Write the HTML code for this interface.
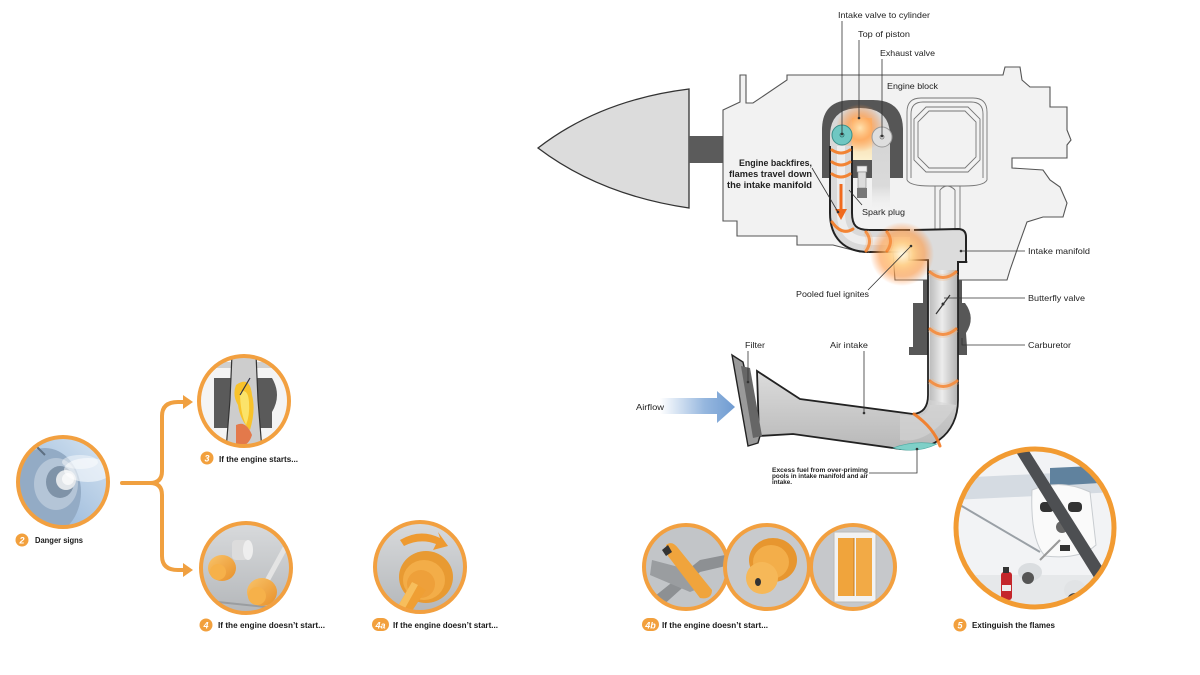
<!DOCTYPE html>
<html><head><meta charset="utf-8"><style>
html,body{margin:0;padding:0;background:#fff;}
svg{display:block;}
text{font-family:"Liberation Sans",sans-serif;}
</style></head><body>
<svg width="1200" height="675" viewBox="0 0 1200 675" xmlns="http://www.w3.org/2000/svg">
<defs>
  <linearGradient id="pipeV" x1="0" x2="1" y1="0" y2="0">
    <stop offset="0" stop-color="#bdbdbd"/><stop offset="0.45" stop-color="#ececec"/><stop offset="1" stop-color="#b5b5b5"/>
  </linearGradient>
  <linearGradient id="pipeH" x1="0" x2="0" y1="0" y2="1">
    <stop offset="0" stop-color="#c4c4c4"/><stop offset="0.4" stop-color="#eeeeee"/><stop offset="1" stop-color="#b8b8b8"/>
  </linearGradient>
  <linearGradient id="air" x1="0" x2="1">
    <stop offset="0" stop-color="#7aa4d6" stop-opacity="0"/><stop offset="0.6" stop-color="#7aa4d6" stop-opacity="0.8"/><stop offset="1" stop-color="#6f9bd1"/>
  </linearGradient>
  <radialGradient id="glow">
    <stop offset="0" stop-color="#fffbe6"/><stop offset="0.35" stop-color="#ffd08a" stop-opacity="0.95"/><stop offset="0.7" stop-color="#ff9a45" stop-opacity="0.6"/><stop offset="1" stop-color="#ff8a3a" stop-opacity="0"/>
  </radialGradient>
  <radialGradient id="glow2">
    <stop offset="0" stop-color="#ffe3b0"/><stop offset="0.5" stop-color="#ffa355" stop-opacity="0.8"/><stop offset="1" stop-color="#ff9040" stop-opacity="0"/>
  </radialGradient>
  <linearGradient id="chamber" x1="0" x2="0" y1="0" y2="1">
    <stop offset="0" stop-color="#f7c98a"/><stop offset="1" stop-color="#fbf0cf"/>
  </linearGradient>
  <linearGradient id="exh" x1="0" x2="0" y1="0" y2="1">
    <stop offset="0" stop-color="#d4d4d4"/><stop offset="0.7" stop-color="#dadada"/><stop offset="1" stop-color="#eeeeee" stop-opacity="0"/>
  </linearGradient>
  <linearGradient id="sky" x1="1" y1="0" x2="0" y2="1">
    <stop offset="0" stop-color="#dbe8f4"/><stop offset="1" stop-color="#86aad2"/>
  </linearGradient>
  <linearGradient id="grayBg" x1="0" y1="0" x2="0" y2="1">
    <stop offset="0" stop-color="#d9dbdd"/><stop offset="1" stop-color="#b3b6b9"/>
  </linearGradient>
  <linearGradient id="orng" x1="0" y1="0" x2="1" y2="1">
    <stop offset="0" stop-color="#f9c46a"/><stop offset="1" stop-color="#e8902a"/>
  </linearGradient>
  <clipPath id="c2"><circle cx="63" cy="482" r="45"/></clipPath>
  <clipPath id="c3"><circle cx="244" cy="401" r="45"/></clipPath>
  <clipPath id="c4"><circle cx="246" cy="568" r="45"/></clipPath>
  <clipPath id="c4a"><circle cx="420" cy="567" r="45"/></clipPath>
  <clipPath id="c4b1"><circle cx="686" cy="567" r="42"/></clipPath>
  <clipPath id="c4b2"><circle cx="767" cy="567" r="42"/></clipPath>
  <clipPath id="c4b3"><circle cx="853" cy="567" r="42"/></clipPath>
  <clipPath id="c5"><circle cx="1035" cy="528" r="79"/></clipPath>
</defs>

<!-- ================= ENGINE DIAGRAM ================= -->
<!-- spinner cone -->
<path d="M538,148 Q600,100 689,89 L689,208 Q600,195 538,148 Z" fill="#dcdcdc" stroke="#333" stroke-width="1.3"/>
<rect x="689" y="136" width="35" height="27" fill="#5b5b5b"/>

<!-- engine block -->
<path d="M723,110 L740,102 L740,75 L746,75 L746,103 L753,103 L787,80 L787,75 L1003,75 L1005,67 L1020,67 L1022,80 L1030,87 L1050,87 L1050,107 L1067,107 L1067,130 L1071,140 L1067,145 L1067,158 L1012,158 L1012,168 L1043,170 L1050,180 L1060,187 L1067,203 L1063,217 L1043,217 L1027,222 L1018,247 L1010,270 L1007,280 L895,280 L893,252 L860,252 L833,245 L797,245 L797,236 L737,236 L737,221 L723,221 Z" fill="#f2f2f2" stroke="#555" stroke-width="1.1"/>

<!-- block inner details -->
<g fill="none" stroke="#777" stroke-width="0.9">
  <path d="M907,180 L907,112 Q907,98 921,98 L973,98 Q987,98 987,112 L987,180"/>
  <path d="M911,178 L911,114 Q911,102 923,102 L971,102 Q983,102 983,114 L983,178"/>
  <path d="M926,107 L968,107 L980,119 L980,160 L968,172 L926,172 L914,160 L914,119 Z"/>
  <path d="M929,111 L965,111 L976,122 L976,157 L965,168 L929,168 L918,157 L918,122 Z"/>
  <path d="M907,180 Q910,186 930,186 L964,186 Q984,186 987,180"/>
  <path d="M935,186 L935,238 M940,190 L940,238 M955,190 L955,238 M960,186 L960,238"/>
  <path d="M940,190 Q947,182 955,190"/>
  <path d="M935,238 Q950,262 968,262"/>
</g>

<!-- cylinder head -->
<path d="M822,178 L822,130 Q822,100 852,100 L873,100 Q903,100 903,130 L903,178 Z" fill="#565656"/>
<path d="M830,180 L830,136 Q830,108 860,108 Q890,108 890,136 L890,160 L830,160 Z" fill="#d8d8d8"/>
<rect x="852" y="118" width="20" height="42" fill="url(#chamber)"/>
<rect x="872" y="130" width="18" height="80" fill="url(#exh)"/>
<rect x="852" y="160" width="20" height="18" fill="#565656"/>
<circle cx="860" cy="128" r="24" fill="url(#glow2)"/>
<!-- spark plug -->
<rect x="857" y="166" width="10" height="6" fill="#eee" stroke="#888" stroke-width="0.6"/>
<rect x="858" y="172" width="8" height="16" fill="#ddd" stroke="#888" stroke-width="0.6"/>
<rect x="857" y="188" width="10" height="10" fill="#777"/>
<!-- valves -->
<circle cx="842" cy="135" r="10" fill="#6fc7c2" stroke="#3a8f8a" stroke-width="1"/>
<circle cx="842" cy="135" r="2" fill="none" stroke="#2a6f6a" stroke-width="0.8"/>
<circle cx="882" cy="137" r="10" fill="#dedede" stroke="#999" stroke-width="1"/>
<circle cx="882" cy="137" r="2" fill="none" stroke="#777" stroke-width="0.8"/>

<!-- carburetor -->
<path d="M923,280 L962,280 L962,303 L965,303 Q976,318 966,333 L967,347 L967,355 L909,355 L909,347 L913,347 L913,303 L923,303 Z" fill="#575757"/>

<!-- intake tube -->
<path d="M841,146 L841,213 Q841,241 869,241 L917,241" fill="none" stroke="#222" stroke-width="24"/>
<path d="M841,146 L841,213 Q841,241 869,241 L920,241" fill="none" stroke="#d9d9d9" stroke-width="20"/>
<path d="M841,146 L841,213 Q841,241 869,241 L920,241" fill="none" stroke="#ededed" stroke-width="8"/>

<!-- vertical pipe + air intake -->
<path d="M928,255 L928,395 Q928,413 913,414 L800,399 L757,371 L759,436 L793,434 L893,448 C930,455 958,435 958,400 L958,255 Z" fill="url(#pipeH)" stroke="#222" stroke-width="1.8"/>
<rect x="930" y="255" width="27" height="150" fill="url(#pipeV)"/>
<path d="M930,400 Q930,418 912,416 L900,415 L900,440 Q930,445 956,405 Z" fill="#d6d6d6" opacity="0.6"/>
<!-- manifold box -->
<path d="M910,229 L958,229 Q966,229 966,237 L966,262 L957,262 L957,270 L929,270 L929,260 L910,260 Z" fill="#dcdcdc"/>
<path d="M914,230 L958,229 Q966,229 966,237 L966,262 L958,262 L958,275" fill="none" stroke="#222" stroke-width="2"/>
<path d="M909,252 L909,260 L928,260 L928,275" fill="none" stroke="#222" stroke-width="1.8"/>

<!-- teal pool -->
<path d="M893,448 Q913,440 937,444 Q917,454 893,448 Z" fill="#7fd0c8" stroke="#4aa8a0" stroke-width="0.6"/>

<!-- filter -->
<path d="M732,355 L743,362 L760,436 L758,443 L748,446 Z" fill="#9a9a9a" stroke="#222" stroke-width="1.4"/>
<path d="M741,366 L750,368 L762,436 L753,438 Z" fill="#666"/>

<!-- glow at junction -->
<circle cx="902" cy="254" r="32" fill="url(#glow)"/>

<!-- orange rings -->
<g fill="none" stroke="#f47a22" stroke-width="3" stroke-linecap="round" opacity="0.9">
  <path d="M832,150 Q841,156 850,150"/>
  <path d="M832,162 Q841,168 850,162"/>
  <path d="M832,174 Q841,180 850,174"/>
  <path d="M832,222 Q842,236 853,229"/>
  <path d="M866,232 Q873,241 866,251"/>
  <path d="M887,232 Q894,241 887,251"/>
  <path d="M930,272 Q943,283 956,272"/>
  <path d="M930,329 Q943,340 956,329"/>
  <path d="M930,381 Q943,392 957,381"/>
  <path d="M914,414 Q934,428 940,446"/>
</g>
<g fill="none" stroke="#f9b57a" stroke-width="7" opacity="0.3">
  <path d="M930,272 Q943,283 956,272"/>
  <path d="M930,329 Q943,340 956,329"/>
  <path d="M930,381 Q943,392 957,381"/>
  <path d="M866,232 Q873,241 866,251"/>
  <path d="M887,232 Q894,241 887,251"/>
</g>
<!-- down arrow -->
<line x1="841" y1="184" x2="841" y2="211" stroke="#f06a1e" stroke-width="3"/>
<path d="M835,209 L847,209 L841,220 Z" fill="#f06a1e"/>

<!-- butterfly valve -->
<line x1="936" y1="314" x2="950" y2="295" stroke="#333" stroke-width="1.2"/>
<circle cx="943" cy="304" r="1.5" fill="#333"/>

<!-- airflow arrow -->
<path d="M660,398 L717,398 L717,391 L735,407 L717,423 L717,414 L660,414 Z" fill="url(#air)"/>

<!-- leader lines -->
<g stroke="#333" stroke-width="0.8" fill="none">
  <line x1="842" y1="21" x2="842" y2="134"/>
  <line x1="859" y1="40" x2="859" y2="118"/>
  <line x1="882" y1="59" x2="882" y2="136"/>
  <line x1="812" y1="168" x2="838" y2="212"/>
  <line x1="862" y1="205" x2="849" y2="190"/>
  <line x1="868" y1="290" x2="911" y2="246"/>
  <line x1="961" y1="251" x2="1025" y2="251"/>
  <line x1="944" y1="298" x2="1025" y2="298"/>
  <path d="M962,338 L962,345 L1025,345"/>
  <line x1="748" y1="351" x2="748" y2="382"/>
  <line x1="864" y1="351" x2="864" y2="414"/>
  <path d="M869,473 L917,473 L917,449"/>
</g>
<g fill="#333">
  <circle cx="842" cy="134" r="1.3"/><circle cx="859" cy="118" r="1.3"/><circle cx="882" cy="136" r="1.3"/>
  <circle cx="838" cy="212" r="1.3"/><circle cx="911" cy="246" r="1.3"/><circle cx="961" cy="251" r="1.3"/>
  <circle cx="864" cy="413" r="1.3"/><circle cx="917" cy="449" r="1.3"/><circle cx="748" cy="382" r="1.3"/>
</g>

<!-- engine labels -->
<g font-size="8.5" fill="#222">
  <text x="838" y="18" textLength="92" lengthAdjust="spacingAndGlyphs">Intake valve to cylinder</text>
  <text x="858" y="37" textLength="52" lengthAdjust="spacingAndGlyphs">Top of piston</text>
  <text x="880" y="56" textLength="55" lengthAdjust="spacingAndGlyphs">Exhaust valve</text>
  <text x="887" y="89" textLength="51" lengthAdjust="spacingAndGlyphs">Engine block</text>
  <text x="862" y="215" textLength="43" lengthAdjust="spacingAndGlyphs">Spark plug</text>
  <text x="1028" y="254" textLength="62" lengthAdjust="spacingAndGlyphs">Intake manifold</text>
  <text x="796" y="297" textLength="73" lengthAdjust="spacingAndGlyphs">Pooled fuel ignites</text>
  <text x="1028" y="301" textLength="57" lengthAdjust="spacingAndGlyphs">Butterfly valve</text>
  <text x="745" y="348" textLength="20" lengthAdjust="spacingAndGlyphs">Filter</text>
  <text x="830" y="348" textLength="38" lengthAdjust="spacingAndGlyphs">Air intake</text>
  <text x="1028" y="348" textLength="43" lengthAdjust="spacingAndGlyphs">Carburetor</text>
  <text x="636" y="410" textLength="28" lengthAdjust="spacingAndGlyphs">Airflow</text>
</g>
<g font-size="9" fill="#222" font-weight="bold">
  <text x="739" y="166" textLength="73" lengthAdjust="spacingAndGlyphs">Engine backfires,</text>
  <text x="729" y="177" textLength="83" lengthAdjust="spacingAndGlyphs">flames travel down</text>
  <text x="727" y="188" textLength="85" lengthAdjust="spacingAndGlyphs">the intake manifold</text>
</g>
<g font-size="6" fill="#222" font-weight="bold">
  <text x="772" y="472" textLength="96" lengthAdjust="spacingAndGlyphs">Excess fuel from over-priming</text>
  <text x="772" y="478" textLength="96" lengthAdjust="spacingAndGlyphs">pools in intake manifold and air</text>
  <text x="772" y="484" textLength="20" lengthAdjust="spacingAndGlyphs">intake.</text>
</g>

<!-- ================= LEFT FLOW ================= -->
<!-- bracket -->
<g fill="none" stroke="#f0a040" stroke-width="4" stroke-linecap="round">
  <path d="M122,483 L150,483 Q162,483 162,471 L162,416 Q162,402 178,402 L184,402"/>
  <path d="M150,483 Q162,483 162,495 L162,556 Q162,570 178,570 L184,570"/>
</g>
<path d="M183,395 L193,402 L183,409 Z" fill="#f0a040"/>
<path d="M183,563 L193,570 L183,577 Z" fill="#f0a040"/>

<!-- circle 2 : danger signs -->
<g clip-path="url(#c2)">
  <rect x="15" y="434" width="100" height="100" fill="url(#sky)"/>
  <ellipse cx="45" cy="492" rx="36" ry="44" fill="#93abc5"/>
  <ellipse cx="56" cy="484" rx="22" ry="26" fill="#b4c5d7"/>
  <ellipse cx="60" cy="482" rx="14" ry="16" fill="#7f93a8"/>
  <circle cx="66" cy="480" r="10" fill="#e2e6ea"/>
  <circle cx="68" cy="479" r="6" fill="#f6f7f8"/>
  <ellipse cx="88" cy="470" rx="24" ry="12" fill="#fff" opacity="0.55"/>
  <ellipse cx="80" cy="462" rx="18" ry="7" fill="#fff" opacity="0.45"/>
  <line x1="30" y1="440" x2="45" y2="455" stroke="#5d6f82" stroke-width="2"/>
</g>
<circle cx="63" cy="482" r="45" fill="none" stroke="#f2a040" stroke-width="4"/>

<!-- circle 3 : engine starts -->
<g clip-path="url(#c3)">
  <rect x="197" y="354" width="95" height="95" fill="#f4f4f4"/>
  <rect x="197" y="362" width="95" height="6" fill="#cfcfcf"/>
  <path d="M214,378 L232,378 L232,428 L214,428 Z" fill="#5a5a5a"/>
  <path d="M256,378 L272,378 Q282,395 272,412 L272,428 L256,428 Z" fill="#5a5a5a"/>
  <path d="M232,354 L256,354 L258,400 L262,450 L226,450 L230,400 Z" fill="#cdcdcd" stroke="#333" stroke-width="1.2"/>
  <path d="M236,385 Q250,375 252,395 Q256,410 250,430 Q240,420 238,405 Q232,395 236,385 Z" fill="#f8c22a"/>
  <path d="M240,392 Q248,388 249,402 Q250,415 246,425 Q240,412 240,392 Z" fill="#fbe36a"/>
  <path d="M236,425 Q246,420 252,435 Q248,448 236,446 Z" fill="#e8642a" opacity="0.8"/>
  <line x1="240" y1="395" x2="250" y2="378" stroke="#334" stroke-width="1.2"/>
</g>
<circle cx="244" cy="401" r="45" fill="none" stroke="#f2a040" stroke-width="4"/>

<!-- circle 4 : knobs -->
<g clip-path="url(#c4)">
  <rect x="199" y="521" width="95" height="95" fill="url(#grayBg)"/>
  <line x1="199" y1="600" x2="294" y2="610" stroke="#9a9da0" stroke-width="2"/>
  <rect x="232" y="540" width="16" height="20" rx="4" fill="#dcdcdc"/>
  <ellipse cx="248" cy="550" rx="5" ry="10" fill="#eee"/>
  <line x1="262" y1="590" x2="285" y2="548" stroke="#e4e4e4" stroke-width="5"/>
  <ellipse cx="222" cy="568" rx="14" ry="13" fill="url(#orng)"/>
  <ellipse cx="218" cy="572" rx="8" ry="8" fill="#f6b14a"/>
  <ellipse cx="262" cy="592" rx="15" ry="14" fill="url(#orng)"/>
  <ellipse cx="257" cy="596" rx="9" ry="9" fill="#f6b14a"/>
  <path d="M202,600 L210,600 L212,614 L204,614 Z" fill="#e9e9e9"/>
</g>
<circle cx="246" cy="568" r="45" fill="none" stroke="#f2a040" stroke-width="4"/>

<!-- circle 4a -->
<g clip-path="url(#c4a)">
  <rect x="373" y="520" width="95" height="95" fill="url(#grayBg)"/>
  <ellipse cx="426" cy="577" rx="27" ry="26" fill="#e89a32"/>
  <ellipse cx="424" cy="580" rx="21" ry="20" fill="#f3ad48"/>
  <ellipse cx="421" cy="584" rx="14" ry="14" fill="#eea03a"/>
  <path d="M412,582 L426,590 L410,614 L398,606 Z" fill="#ef9f34"/>
  <path d="M412,582 L418,585 L404,610 L398,606 Z" fill="#f7be5c"/>
  <path d="M400,540 Q420,528 440,538 L438,532 L448,546 L433,550 L436,544 Q420,538 404,546 Z" fill="#ee9a30"/>
</g>
<circle cx="420" cy="567" r="45" fill="none" stroke="#f2a040" stroke-width="4"/>

<!-- 4b circles -->
<g clip-path="url(#c4b1)">
  <rect x="642" y="523" width="90" height="90" fill="#c2c5c8"/>
  <path d="M650,600 L700,560 L725,555 L730,565 L700,572 L660,608 Z" fill="#8d9093"/>
  <path d="M652,560 L690,570 L700,588 L690,592 L650,575 Z" fill="#9a9da0"/>
  <path d="M666,545 Q672,540 678,548 L712,590 Q712,600 700,598 L668,556 Z" fill="#f0a43c"/>
  <path d="M662,550 L668,545 L672,552 L666,556 Z" fill="#333"/>
</g>
<circle cx="686" cy="567" r="42" fill="none" stroke="#f2a040" stroke-width="4"/>
<g clip-path="url(#c4b2)">
  <rect x="723" y="523" width="90" height="90" fill="#c8cacd"/>
  <ellipse cx="773" cy="560" rx="24" ry="22" fill="#e7962f"/>
  <ellipse cx="771" cy="562" rx="18" ry="17" fill="#f3ae4a"/>
  <ellipse cx="762" cy="578" rx="16" ry="16" fill="#f6b858"/>
  <ellipse cx="758" cy="582" rx="3" ry="4" fill="#333"/>
</g>
<circle cx="767" cy="567" r="42" fill="none" stroke="#f2a040" stroke-width="4"/>
<g clip-path="url(#c4b3)">
  <rect x="809" y="523" width="90" height="90" fill="#c6c8cb"/>
  <rect x="834" y="532" width="42" height="70" fill="#f2f2f2" stroke="#bbb" stroke-width="1"/>
  <rect x="838" y="538" width="16" height="58" fill="#f0a43c"/>
  <rect x="856" y="538" width="16" height="58" fill="#f2aa46"/>
  <line x1="854" y1="538" x2="854" y2="596" stroke="#c77d20" stroke-width="1"/>
</g>
<circle cx="853" cy="567" r="42" fill="none" stroke="#f2a040" stroke-width="4"/>

<!-- circle 5 -->
<g clip-path="url(#c5)">
  <rect x="954" y="447" width="162" height="162" fill="#f2f3f5"/>
  <rect x="954" y="575" width="162" height="40" fill="#e6e8ea"/>
  <path d="M954,478 L1116,470 L1116,492 L954,500 Z" fill="#d5dbe2"/>
  <path d="M1050,468 L1116,465 L1116,482 L1050,486 Z" fill="#60829e"/>
  <line x1="960" y1="505" x2="1040" y2="552" stroke="#9aa0a6" stroke-width="2"/>
  <path d="M1032,490 Q1060,478 1090,492 L1096,545 Q1080,560 1045,556 Q1030,540 1032,490 Z" fill="#fafafa" stroke="#c8ccd0" stroke-width="1"/>
  <rect x="1040" y="502" width="14" height="10" rx="4" fill="#333"/>
  <rect x="1068" y="502" width="14" height="10" rx="4" fill="#333"/>
  <circle cx="1062" cy="527" r="6" fill="#666"/>
  <rect x="1060" y="545" width="10" height="6" fill="#333"/>
  <path d="M1016,452 L1026,446 L1108,576 L1098,584 Z" fill="#4d4f52"/>
  <ellipse cx="1030" cy="572" rx="12" ry="9" fill="#dadde0"/>
  <ellipse cx="1028" cy="578" rx="6" ry="6" fill="#555"/>
  <ellipse cx="1075" cy="590" rx="11" ry="10" fill="#e1e3e5"/>
  <ellipse cx="1075" cy="598" rx="7" ry="5" fill="#444"/>
  <line x1="1040" y1="560" x2="1060" y2="540" stroke="#999" stroke-width="2"/>
  <rect x="1001" y="572" width="11" height="28" rx="3" fill="#c4262b"/>
  <rect x="1003" y="567" width="6" height="6" fill="#333"/>
  <rect x="1002" y="585" width="9" height="6" fill="#eee"/>
</g>
<circle cx="1035" cy="528" r="79" fill="none" stroke="#f29b32" stroke-width="5"/>

<!-- number badges & captions -->
<g fill="#f2a03d">
  <circle cx="22" cy="540" r="6.5"/>
  <circle cx="207" cy="458" r="6.5"/>
  <circle cx="206" cy="625" r="6.5"/>
  <rect x="372" y="618" width="17" height="13" rx="6.5"/>
  <rect x="642" y="618" width="17" height="13" rx="6.5"/>
  <circle cx="960" cy="625" r="6.5"/>
</g>
<g fill="#fff" font-size="9" font-weight="bold" font-style="italic" text-anchor="middle">
  <text x="22" y="543.5">2</text>
  <text x="207" y="461.5">3</text>
  <text x="206" y="628.5">4</text>
  <text x="380.5" y="628.5">4a</text>
  <text x="650.5" y="628.5">4b</text>
  <text x="960" y="628.5">5</text>
</g>
<g fill="#1a1a1a" font-size="8.5" font-weight="bold">
  <text x="35" y="543" textLength="48" lengthAdjust="spacingAndGlyphs">Danger signs</text>
  <text x="219" y="462" textLength="79" lengthAdjust="spacingAndGlyphs">If the engine starts...</text>
  <text x="218" y="628" textLength="107" lengthAdjust="spacingAndGlyphs">If the engine doesn’t start...</text>
  <text x="393" y="628" textLength="105" lengthAdjust="spacingAndGlyphs">If the engine doesn’t start...</text>
  <text x="662" y="628" textLength="106" lengthAdjust="spacingAndGlyphs">If the engine doesn’t start...</text>
  <text x="972" y="628" textLength="83" lengthAdjust="spacingAndGlyphs">Extinguish the flames</text>
</g>
</svg>
</body></html>
